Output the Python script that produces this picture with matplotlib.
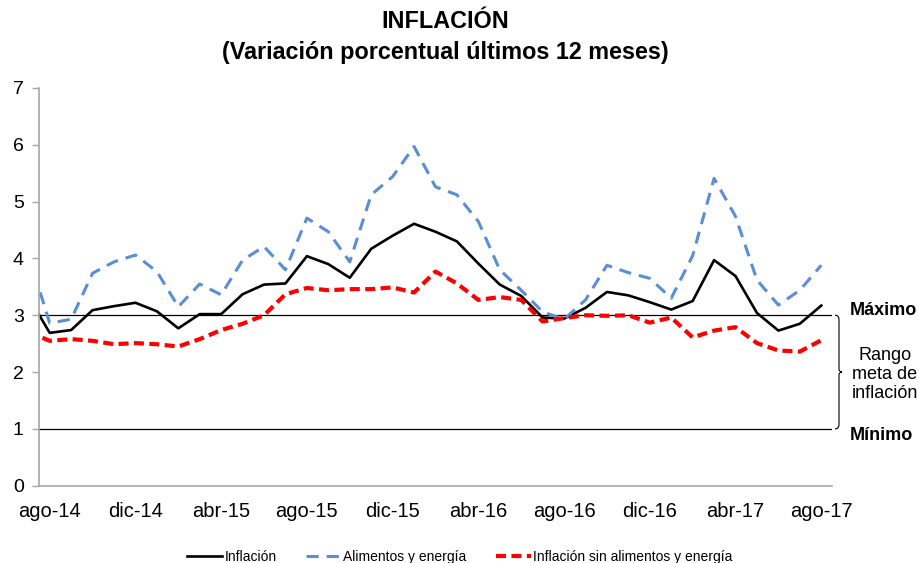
import matplotlib
matplotlib.use("Agg")
import matplotlib.pyplot as plt
from matplotlib.path import Path
from matplotlib.patches import PathPatch
import matplotlib.transforms as mtransforms
import numpy as np

plt.rcParams['font.family'] = ['Liberation Sans', 'DejaVu Sans']

# monthly data jul-14 .. ago-17 (jul-14 only feeds the clipped first segment)
inflacion = [3.33, 2.69, 2.74, 3.09, 3.16, 3.22, 3.07, 2.77, 3.02, 3.02, 3.37, 3.54, 3.56,
             4.04, 3.90, 3.66, 4.17, 4.40, 4.61, 4.47, 4.30, 3.91, 3.54, 3.34, 2.96, 2.94,
             3.13, 3.41, 3.35, 3.23, 3.10, 3.25, 3.97, 3.69, 3.04, 2.73, 2.85, 3.17]
alimentos_energia = [4.08, 2.86, 2.93, 3.74, 3.94, 4.06, 3.77, 3.15, 3.55, 3.36, 3.97, 4.21, 3.80,
                     4.71, 4.47, 3.94, 5.12, 5.44, 5.97, 5.26, 5.12, 4.65, 3.80, 3.44, 3.06, 2.93,
                     3.27, 3.88, 3.75, 3.65, 3.30, 4.05, 5.41, 4.74, 3.62, 3.18, 3.44, 3.88]
sin_alimentos = [2.71, 2.55, 2.58, 2.55, 2.49, 2.51, 2.49, 2.45, 2.58, 2.74, 2.85, 3.00, 3.37,
                 3.48, 3.44, 3.46, 3.46, 3.49, 3.40, 3.77, 3.56, 3.27, 3.32, 3.27, 2.89, 2.95,
                 3.00, 2.99, 3.00, 2.87, 2.96, 2.61, 2.73, 2.79, 2.51, 2.38, 2.36, 2.56]
tick_labels = ['ago-14', 'dic-14', 'abr-15', 'ago-15', 'dic-15',
               'abr-16', 'ago-16', 'dic-16', 'abr-17', 'ago-17']
meta_max = 3
meta_min = 1

x = np.arange(-1, len(inflacion) - 1)

fig = plt.figure(figsize=(9.2, 5.63), dpi=100)
ax = fig.add_axes([0.0424, 0.1373, 0.8619, 0.7064])

ax.axhline(meta_max, color='black', lw=0.9)
ax.axhline(meta_min, color='black', lw=0.9)

ax.plot(x, inflacion, color='black', lw=1.9, label='Inflación')
ax.plot(x, alimentos_energia, color='#5A8ED6', lw=2.2, dashes=(4.0, 2.6),
        label='Alimentos y energía')
ax.plot(x, sin_alimentos, color='#FF0000', lw=3.0, dashes=(2.4, 1.3),
        label='Inflación sin alimentos y energía')

ax.set_xlim(-0.5, 36.5)
ax.set_ylim(0, 7)
ax.set_xticks(np.arange(0, 37, 4))
ax.set_xticklabels(tick_labels)
ax.set_yticks(range(0, 8))
ax.tick_params(axis='x', length=0, pad=12, labelsize=14.5)
ax.tick_params(axis='y', length=5, width=1, color='#A6A6A6', pad=6, labelsize=14)

for s in ['top', 'right']:
    ax.spines[s].set_visible(False)
for s in ['left', 'bottom']:
    ax.spines[s].set_color('#A6A6A6')
    ax.spines[s].set_linewidth(1.2)

fig.text(445 / 920, 1 - 21 / 563, 'INFLACIÓN', ha='center', va='center',
         fontsize=16.8, fontweight='bold')
fig.text(445 / 920, 1 - 53 / 563, '(Variación porcentual últimos 12 meses)',
         ha='center', va='center', fontsize=16.8, fontweight='bold')

# target range annotations
tr = mtransforms.blended_transform_factory(fig.transFigure, ax.transData)
fig.text(850 / 920, 3.09, 'Máximo', transform=tr, ha='left', va='center',
         fontsize=13, fontweight='bold')
fig.text(850 / 920, 0.89, 'Mínimo', transform=tr, ha='left', va='center',
         fontsize=13, fontweight='bold')
fig.text(885 / 920, 1.96, 'Rango\nmeta de\ninflación', transform=tr, ha='center',
         va='center', fontsize=13, linespacing=1.15)

# curly brace between min and max
xb0, xb1, xb2 = 835 / 920, 839 / 920, 842 / 920
mid = (meta_max + meta_min) / 2
verts = [(xb0, meta_max), (xb1, meta_max), (xb1, meta_max - 0.08),
         (xb1, mid + 0.05), (xb1, mid), (xb2, mid),
         (xb1, mid), (xb1, mid - 0.05),
         (xb1, meta_min + 0.08), (xb1, meta_min), (xb0, meta_min)]
codes = [Path.MOVETO, Path.CURVE3, Path.CURVE3,
         Path.LINETO, Path.CURVE3, Path.CURVE3,
         Path.CURVE3, Path.CURVE3,
         Path.LINETO, Path.CURVE3, Path.CURVE3]
brace = PathPatch(Path(verts, codes), transform=tr, fill=False, lw=0.8,
                  edgecolor='black', clip_on=False)
fig.add_artist(brace)

fig.legend(loc='center', bbox_to_anchor=(0.5, 1 - 557 / 563), ncol=3, frameon=False,
           fontsize=10, handlelength=2.5, handletextpad=0.2, columnspacing=2.1)

fig.savefig('out.png', dpi=100)
